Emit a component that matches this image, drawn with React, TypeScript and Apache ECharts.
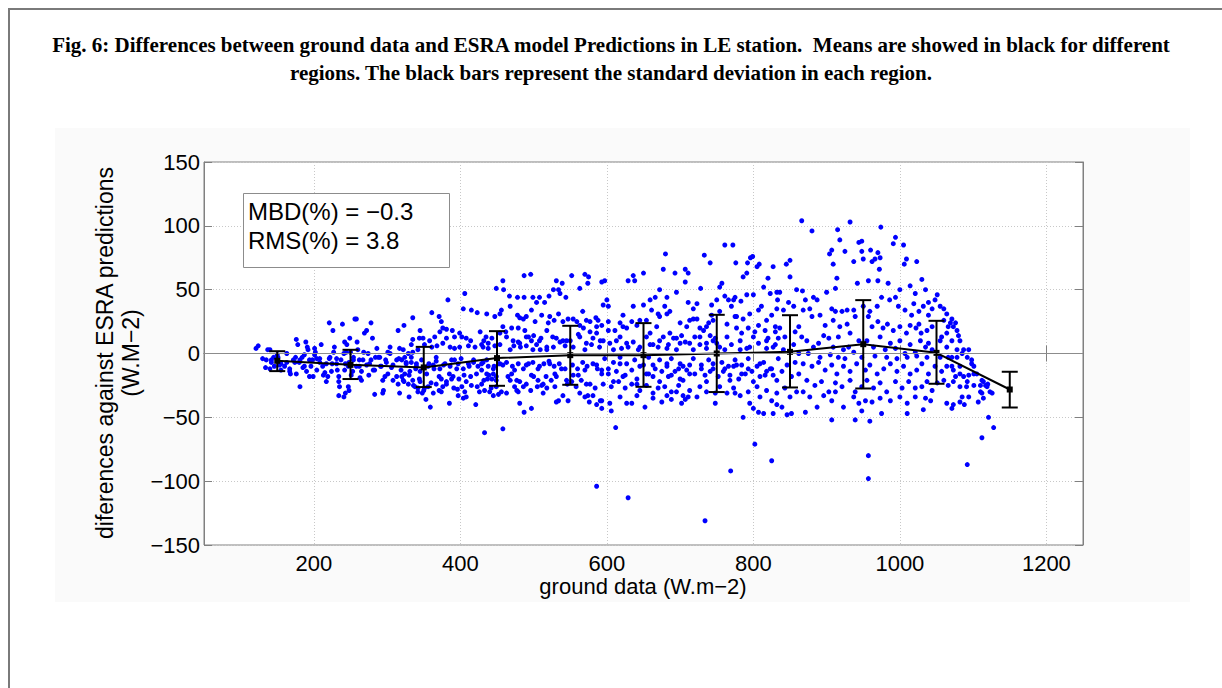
import React, { useEffect, useRef } from "react";
import * as echarts from "echarts";

// ---- Data ----
const binCenters = [150, 250, 350, 450, 550, 650, 750, 850, 950, 1050, 1150];
const binMeans = [-5.7, -8.9, -10.9, -3.6, -1.3, -1.3, 0, 1.3, 7.3, 0.5, -28.2];
const binUpper = [1.8, 2.9, 5.2, 17.5, 21.7, 23.8, 30.3, 30, 41.8, 25.6, -14.3];
const binLower = [-13.8, -20, -26.3, -25.3, -24.5, -26.1, -30.2, -26.6, -27.4, -23.7, -42.3];

const statLines = ["MBD(%) = \u22120.3", "RMS(%) = 3.8"];
const titleLines = [
  "Fig. 6: Differences between ground data and ESRA model Predictions in LE station.  Means are showed in black for different",
  "regions. The black bars represent the standard deviation in each region.",
];
const xAxisTitle = "ground data (W.m\u22122)";
const yAxisTitle = ["diferences against ESRA predictions", "(W.M\u22122)"];

const scatterLow = [
  [124,6],[121,4],[130,-4],[137,3],[140,3],[135,-5],[142,-7],[140,-12],[134,-11],[145,-3],[151,-3],[153,-9],[155,-13],[160,-10],[163,-7],[167,-14],[168,-16],[174,-7],[176,11],[178,7],[175,-3],[181,-5],[181,-26],[185,-11],[189,9],[191,5],[187,-1],[194,-5],[196,-10],[190,-14],[199,-18],[201,4],[202,1],[204,-4],[208,-7],[210,7],[212,-10],[215,-15],[217,-22],[219,-18],[221,24],[222,-3],[225,-8],[226,18],[228,5],[231,-4],[232,-13],[234,-22],[235,-26],[239,23],[241,0],[242,9],[243,-8],[245,7],[247,-10],[248,-29],[249,12],[250,1],[253,-14],[254,-5],[256,27],[258,27],[259,9],[260,3],[262,-10],[263,-19],[265,-21],[267,-5],[269,16],[272,18],[274,0],[276,-8],[278,24],[280,12],[281,-13],[283,-32],[284,-3],[286,4],[290,-3],[292,-10],[294,-31],[295,-29],[297,-18],[299,-7],[301,1],[304,5],[306,-11],[308,-21],[313,-5],[315,18],[315,-24],[317,4],[234,-33],[241,-34],[247,-26],[243,-31],
  [142,-5],[146,-10],[150,-1],[155,-8],[163,0],[167,-12],[172,-5],[176,-16],[180,-7],[184,-3],[187,-10],[192,3],[194,-18],[198,-5],[201,-1],[204,-13],[208,-4],[213,-17],[217,-8],[221,-4],[224,-14],[227,1],[231,-8],[234,-18],[237,-5],[242,-13],[244,1],[248,-7],[251,-17],[254,-3],[258,-10],[262,-5],[265,-14],[268,1],[272,-9],[275,-17],[278,-5],[283,-13],[288,-3],[291,-10],[294,-21],[298,-5],[301,-16],[304,0],[308,-9],[313,-18],[316,-4],
];

const scatterMidLow = [
  [319,-13],[323,-22],[326,-7],[330,-17],[333,-3],[336,-25],[340,-10],[344,-20],[347,-5],[350,-29],[354,-16],[357,-8],[360,-23],[364,-12],[367,-3],[371,-18],[374,-30],[377,-9],[381,-22],[385,-16],[388,-5],[391,-27],[395,-12],[398,-20],[401,-4],[405,-17],[408,-34],[412,-10],[415,-25],[418,-7],[422,-16],[426,-30],[429,-13],[432,-21],[436,-5],[439,-17],[442,-27],[446,-10],[449,-18],[452,-8],[335,11],[399,16],[432,10],[317,-31],[330,-34],[342,-27],[404,-35],[445,-33],
  [487,61],[496,62],[458,57],[449,51],[406,47],[383,42],[404,35],[415,34],[423,32],[361,32],[335,28],[323,22],[454,31],[467,45],[478,44],[481,28],[486,27],[497,34],[504,40],[508,44],[515,40],[521,45],[527,50],[531,57],[539,55],[536,47],[552,61],[570,62],[575,60],[574,55],[563,51],[567,33],[585,28],[588,26],[577,25],[522,29],[528,26],[534,31],[540,25],[547,27],[559,25],
  [371,29],[374,25],[381,19],[389,18],[376,20],[372,17],[365,13],[345,18],[349,12],[344,12],[333,7],[322,3],[358,10],[381,12],[392,13],[402,13],[408,12],[414,10],[427,17],[435,13],[443,12],[458,21],[462,17],[470,20],[479,20],[488,18],[493,13],[479,9],[497,10],[500,14],[510,12],[518,18],[526,13],[531,12],[540,10],[550,10],[561,15],[568,20],[577,17],[586,16],[591,10],[590,5],[579,7],[570,3],[554,5],[543,6],[536,9],[527,5],[518,5],[509,3],[504,7],[499,3],[490,6],[482,5],[473,6],[468,3],[454,7],[447,6],[438,4],[429,7],[420,5],[411,6],[399,5],[392,4],[386,5],[376,8],[368,6],[361,5],[351,7],[342,3],[335,1],[329,0],[324,-3],
  [320,-5],[326,-8],[333,-7],[340,-8],[339,-12],[331,-14],[324,-16],[320,-18],[345,-14],[356,-10],[363,-9],[367,-6],[372,-12],[379,-8],[386,-10],[392,-5],[397,-8],[404,-12],[411,-8],[418,-5],[424,-10],[431,-7],[438,-10],[445,-12],[454,-8],[463,-7],[471,-10],[479,-8],[486,-12],[493,-8],[499,-7],[508,-10],[514,-8],[521,-6],[528,-10],[535,-8],[543,-12],[553,-9],[560,-12],[567,-7],[573,-10],[581,-8],[587,-12],
  [322,-21],[329,-24],[338,-26],[345,-22],[351,-27],[348,-31],[353,-36],[359,-42],[367,-24],[374,-20],[381,-24],[385,-39],[376,-26],[390,-18],[397,-33],[402,-26],[408,-22],[414,-18],[421,-40],[429,-24],[437,-20],[445,-16],[452,-32],[456,-30],[463,-31],[470,-16],[477,-21],[479,-30],[481,-39],[487,-46],[490,-24],[497,-43],[500,-18],[506,-21],[511,-25],[518,-27],[524,-21],[531,-18],[534,-37],[540,-33],[546,-24],[552,-22],[558,-26],[563,-31],[570,-34],[576,-38],[581,-33],[586,-40],[591,-37],[584,-27],[572,-24],[565,-21],[554,-17],[529,-26],[517,-18],[505,-26],[496,-29],[486,-26],[474,-26],[468,-21],[449,-26],[443,-20],[433,-29],[423,-26],[406,-30],[396,-28],[388,-20],[371,-29],[363,-31],[356,-26],[342,-30],[335,-21],
  [433,-62],[458,-59],[586,-104],
];

const scatterBand = [
  [459,50],[487,44],[499,44],[534,50],[544,44],[659,42],[773,42],[832,48],[833,42],[783,41],[750,42],[743,38],
  [436,31],[447,29],[456,34],[468,37],[478,30],[490,29],[502,25],[511,30],[520,24],[554,27],[563,22],[572,26],[586,21],[602,18],[622,21],[634,25],[645,26],[672,29],[682,31],[718,27],[736,21],[745,26],[764,23],[775,29],[795,31],[807,22],[818,26],[830,21],
  [431,5],[438,8],[454,16],[463,13],[472,10],[481,8],[490,13],[508,10],[518,3],[545,10],[563,13],[572,8],[581,12],[609,3],[618,13],[627,8],[645,5],[654,13],[663,7],[672,10],[682,4],[691,12],[700,8],[727,13],[736,8],[745,10],[754,5],[782,10],[791,4],[800,13],[818,10],[827,5],[834,12],
  [429,-8],[436,-16],[449,-21],[458,-9],[465,-18],[474,-13],[481,-22],[490,-9],[497,-17],[506,-12],[513,-24],[522,-8],[529,-16],[538,-12],[545,-21],[561,-17],[570,-13],[577,-24],[586,-9],[593,-16],[602,-12],[609,-22],[618,-8],[625,-17],[641,-24],[650,-9],[657,-16],[666,-12],[672,-22],[682,-8],[688,-17],[698,-12],[704,-21],[713,-9],[720,-16],[729,-12],[736,-22],[745,-8],[761,-12],[768,-21],[777,-9],[784,-16],[793,-12],[800,-22],[809,-8],[816,-17],[825,-12],[832,-21],
  [440,-30],[477,-29],[513,-31],[531,-38],[547,-37],[574,-33],[634,-39],[682,-33],[695,-30],[707,-36],[825,-37],
  [1069,24],[1073,21],[1080,14],[1082,10],[1087,3],[1094,3],[1098,-8],[1101,-16],[1110,-25],[1114,-22],[1119,-26],[1064,16],[1078,-3],[1082,-10],[1087,-18],[1091,-26],[1057,13],[1066,-3],[1071,-10],[1076,-18],[1085,-34],[1088,-40],[1073,-40],[1112,-31],
];

const scatterMidHigh = [
  [761,85],[772,85],[680,78],[733,77],[741,71],[776,71],[792,71],[796,75],[799,76],[805,68],[808,70],[827,68],[845,70],[850,73],[677,66],[693,63],[707,66],[711,63],[636,61],[629,57],[638,57],[650,63],[597,57],[593,56],[707,56],[728,51],[757,55],[754,52],[786,60],[791,63],[820,59],[850,60],[672,50],[666,44],[682,44],[695,48],[711,40],[723,39],[718,35],[761,45],[766,42],[775,44],[791,46],[800,46],[814,52],[823,47],[836,48],[848,40],[859,50],[600,42],[602,37],[595,38],[636,37],[650,38],[661,34],[670,31],[679,37],[686,33],[700,24],[709,21],[713,26],[723,27],[727,20],[739,24],[743,30],[754,33],[770,37],[777,29],[786,27],[807,34],[811,37],[825,30],[832,35],[841,34],[855,37],[622,30],[618,24],[611,18],[602,25],[593,22],[627,20],[641,22],[654,26],[659,16],[668,21],[677,13],[686,16],[695,12],[702,14],[713,8],[720,13],[732,18],[741,14],[748,12],[764,13],[777,20],[784,16],[793,20],[802,17],[816,18],[820,12],[830,17],[836,20],[843,13],[857,17],[862,21],
  [595,10],[604,8],[613,10],[620,4],[629,5],[636,9],[643,3],[659,7],[670,5],[684,7],[695,3],[707,9],[718,3],[727,7],[736,4],[750,8],[761,3],[770,7],[782,3],[795,5],[807,8],[818,4],[830,7],[841,3],[855,7],[862,0],[597,-4],[609,-7],[618,-3],[627,-8],[638,-5],[645,-10],[657,-3],[663,-9],[672,-5],[682,-10],[688,-4],[700,-8],[709,-13],[718,-4],[729,-9],[739,-5],[745,-12],[757,-7],[766,-10],[775,-5],[784,-9],[793,-4],[805,-10],[814,-7],[823,-12],[834,-4],[846,-9],[857,-7],[593,-13],[602,-16],[613,-14],[622,-18],[634,-13],[641,-20],[654,-16],[663,-18],[675,-14],[684,-18],[693,-14],[700,-20],[704,-10],[713,-16],[734,-17],[741,-14],[752,-18],[759,-14],[768,-17],[773,-10],[780,-20],[789,-16],[798,-14],[809,-18],[818,-14],[827,-17],[839,-14],[852,-18],[862,-16],
  [595,-24],[606,-26],[616,-22],[625,-27],[634,-24],[645,-29],[654,-25],[663,-31],[670,-27],[679,-26],[688,-30],[698,-25],[704,-33],[713,-29],[723,-34],[727,-26],[736,-30],[748,-31],[754,-26],[764,-31],[773,-27],[782,-33],[793,-30],[805,-26],[809,-34],[818,-29],[832,-31],[843,-27],[850,-34],[859,-30],[593,-37],[604,-39],[618,-34],[627,-39],[641,-33],[652,-42],[663,-35],[675,-38],[688,-36],[702,-39],[711,-34],[748,-39],[775,-31],[795,-39],[800,-43],[807,-46],[814,-47],[827,-47],[832,-40],[839,-42],[846,-48],[852,-47],[786,-50],[606,-45],[593,-43],
  [612,-58],[802,-71],[825,-84],[769,-92],[629,-113],[734,-131],
];

const scatterHigh = [
  [866,104],[932,103],[880,96],[974,99],[915,97],[918,89],[944,87],[948,88],[994,91],[991,86],[1005,85],[907,81],[904,78],[925,80],[948,80],[960,81],[970,79],[973,75],[937,72],[950,74],[962,72],[966,74],[909,70],[1009,74],[1006,70],[1023,72],[972,66],[914,59],[912,51],[942,55],[957,57],[970,57],[984,55],[1000,50],[1014,53],[1030,58],[1035,50],[1021,47],[867,49],[882,44],[887,42],[871,42],[900,48],[868,34],[877,35],[880,29],[891,30],[898,22],[907,35],[912,33],[921,33],[928,34],[937,34],[939,29],[950,37],[959,33],[969,37],[975,44],[986,42],[994,44],[998,37],[1007,34],[1019,39],[1016,30],[1026,33],[1032,37],[1039,40],[1044,35],[1051,46],[1048,42],[1055,37],[1060,35],[1064,31],[1071,27],[1076,24],[1078,18],[1066,21],[909,26],[918,21],[928,23],[932,16],[957,29],[962,21],[970,25],[977,20],[983,23],[991,18],[1000,21],[1009,16],[1014,22],[1022,20],[1029,16],[1037,18],[1044,21],[1060,26],[1039,30],[1026,23],
  [866,13],[873,10],[882,5],[889,8],[896,14],[903,12],[909,5],[916,13],[923,3],[930,5],[937,1],[944,10],[955,10],[964,5],[973,13],[980,3],[987,8],[994,4],[1000,10],[1007,0],[1014,7],[1021,1],[1028,10],[1035,5],[1039,8],[1044,3],[1055,10],[1064,5],[1071,10],[1078,3],[1085,0],[1092,-3],[1098,-5],[875,0],[891,-3],[905,-1],[916,-3],[925,-4],[948,-3],[966,-2],[982,-3],[996,-4],[1010,-3],[1023,-2],[1037,-3],[1055,-3],[1071,-3],
  [868,-8],[880,-10],[889,-7],[898,-13],[907,-9],[914,-16],[923,-10],[932,-14],[941,-8],[953,-13],[959,-9],[969,-16],[978,-12],[987,-8],[996,-14],[1005,-10],[1014,-16],[1023,-13],[1030,-8],[1039,-16],[1048,-10],[1057,-14],[1064,-10],[1073,-13],[1082,-16],[1094,-17],[1101,-10],[1105,-16],[1112,-21],[873,-21],[884,-25],[893,-22],[903,-30],[912,-23],[921,-26],[932,-21],[939,-30],[948,-26],[955,-21],[964,-27],[973,-23],[982,-30],[994,-22],[1003,-27],[1012,-22],[1021,-27],[1030,-26],[1037,-22],[1044,-29],[1051,-23],[1060,-21],[1066,-25],[1073,-22],[1082,-26],[1092,-22],[1101,-25],[1110,-30],[1117,-25],[1123,-30],[1120,-24],
  [868,-30],[877,-34],[887,-42],[896,-33],[907,-37],[912,-30],[923,-42],[937,-34],[944,-39],[953,-37],[962,-38],[973,-35],[987,-37],[1000,-34],[1010,-39],[1021,-34],[1035,-35],[1042,-37],[1064,-39],[1071,-43],[1082,-38],[1094,-34],[1107,-38],[1114,-35],[1126,-31],[871,-46],[907,-52],[939,-52],[948,-45],[959,-53],[975,-47],[1010,-47],[1032,-44],
  [1121,-50],[1128,-58],[1112,-66],[957,-80],[1092,-87],[957,-98],
];

const FONT = "'Liberation Sans', Arial, Helvetica, sans-serif";
const SERIF = "'Liberation Serif', 'Times New Roman', serif";

export default function App() {
  const ref = useRef<HTMLDivElement>(null);

  useEffect(() => {
    if (!ref.current) return;
    const chart = echarts.init(ref.current, null, { renderer: "svg" });
    const allPoints = [...scatterLow, ...scatterMidLow, ...scatterBand, ...scatterMidHigh, ...scatterHigh];
    const meanData = binCenters.map((x, i) => [x, binMeans[i]]);
    const barData = binCenters.map((x, i) => [x, binLower[i], binUpper[i]]);
    const fmt = (v: number) => String(v).replace("-", "\u2212");

    const axisGray = "#808080";

    const baseX = {
      type: "value",
      min: 50,
      max: 1250,
      splitNumber: 6,
      axisLine: { show: true, lineStyle: { color: axisGray, width: 1 } },
      axisTick: { show: true, inside: true, length: 8, lineStyle: { color: axisGray } },
    };
    const baseY = {
      type: "value",
      min: -150,
      max: 150,
      interval: 50,
      axisLine: { show: true, lineStyle: { color: axisGray, width: 1 } },
      axisTick: { show: true, inside: true, length: 8, lineStyle: { color: axisGray } },
    };
    const txt = (text: string, x: number, y: number, size: number, extra: any = {}) => ({
      type: "text",
      x,
      y,
      ...extra,
      style: {
        text,
        fill: "#000",
        fontFamily: FONT,
        fontSize: size,
        align: "center",
        verticalAlign: "middle",
        ...(extra.style || {}),
      },
    });

    chart.setOption({
      animation: false,
      backgroundColor: "transparent",
      grid: {
        left: 204,
        top: 162,
        width: 879,
        height: 383,
        show: true,
        backgroundColor: "#ffffff",
        borderColor: axisGray,
        borderWidth: 1,
      },
      xAxis: [
        {
          ...baseX,
          position: "bottom",
          axisLabel: {
            show: true,
            showMinLabel: false,
            showMaxLabel: false,
            margin: 7,
            color: "#000",
            fontFamily: FONT,
            fontSize: 22,
            lineHeight: 22,
            formatter: fmt,
          },
          splitLine: { show: true, lineStyle: { color: "#c8c8c8", type: [1, 2], width: 1 } },
        },
        {
          ...baseX,
          position: "top",
          axisLabel: { show: false },
          splitLine: { show: false },
        },
      ],
      yAxis: [
        {
          ...baseY,
          position: "left",
          axisLabel: {
            show: true,
            margin: 4,
            color: "#000",
            fontFamily: FONT,
            fontSize: 22,
            formatter: fmt,
          },
          splitLine: { show: true, lineStyle: { color: "#c8c8c8", type: [1, 2], width: 1 } },
        },
        {
          ...baseY,
          position: "right",
          axisLabel: { show: false },
          splitLine: { show: false },
        },
      ],
      series: [
        {
          type: "line",
          data: [],
          z: 1,
          silent: true,
          markLine: {
            silent: true,
            symbol: ["none", "none"],
            label: { show: false },
            lineStyle: { color: "#8c8c8c", type: "solid", width: 1 },
            data: [{ yAxis: 0 }],
          },
        },
        {
          type: "scatter",
          data: allPoints,
          symbol: "circle",
          symbolSize: 5,
          itemStyle: { color: "#0000ff", opacity: 1 },
          z: 2,
          silent: true,
        },
        {
          type: "line",
          data: meanData,
          symbol: "rect",
          symbolSize: 6,
          itemStyle: { color: "#000" },
          lineStyle: { color: "#000", width: 2 },
          z: 4,
          silent: true,
        },
        {
          type: "custom",
          data: barData,
          z: 5,
          silent: true,
          encode: { x: 0, y: [1, 2] },
          renderItem: (params: any, api: any) => {
            const x = api.value(0);
            const lo = api.coord([x, api.value(1)]);
            const hi = api.coord([x, api.value(2)]);
            const w = 8;
            const st = { stroke: "#000", lineWidth: 2 };
            return {
              type: "group",
              children: [
                { type: "line", shape: { x1: hi[0], y1: hi[1], x2: lo[0], y2: lo[1] }, style: st },
                { type: "line", shape: { x1: hi[0] - w, y1: hi[1], x2: hi[0] + w, y2: hi[1] }, style: st },
                { type: "line", shape: { x1: lo[0] - w, y1: lo[1], x2: lo[0] + w, y2: lo[1] }, style: st },
              ],
            };
          },
        },
      ],
      graphic: [
        txt(titleLines[0], 611, 45, 21, { style: { fontFamily: SERIF, fontWeight: "bold" } }),
        txt(titleLines[1], 611, 73, 21, { style: { fontFamily: SERIF, fontWeight: "bold" } }),
        {
          type: "rect",
          z: 100,
          shape: { x: 243.5, y: 193.5, width: 206, height: 74 },
          style: { fill: "#ffffff", stroke: "#8c8c8c", lineWidth: 1 },
        },
        txt(statLines[0], 248, 211, 24, { z: 101, style: { align: "left" } }),
        txt(statLines[1], 248, 240, 24, { z: 101, style: { align: "left" } }),
        txt(yAxisTitle[0], 105, 353, 23, { rotation: Math.PI / 2 }),
        txt(yAxisTitle[1], 131, 353, 23, { rotation: Math.PI / 2 }),
        txt(xAxisTitle, 643, 586, 22, { style: { lineHeight: 22 } }),
      ],
    });

    return () => chart.dispose();
  }, []);

  return (
    <div style={{ position: "fixed", left: 0, top: 0, width: 1222, height: 688, background: "#ffffff", overflow: "hidden" }}>
      <div
        style={{
          position: "absolute",
          left: 8,
          top: 8,
          width: 1300,
          height: 800,
          borderLeft: "2px solid #7a7a7a",
          borderTop: "2px solid #7a7a7a",
        }}
      />
      <div style={{ position: "absolute", left: 55, top: 128, width: 1135, height: 474, background: "#fafafa" }} />
      <div ref={ref} style={{ position: "absolute", left: 0, top: 0, width: 1222, height: 688 }} />
    </div>
  );
}
